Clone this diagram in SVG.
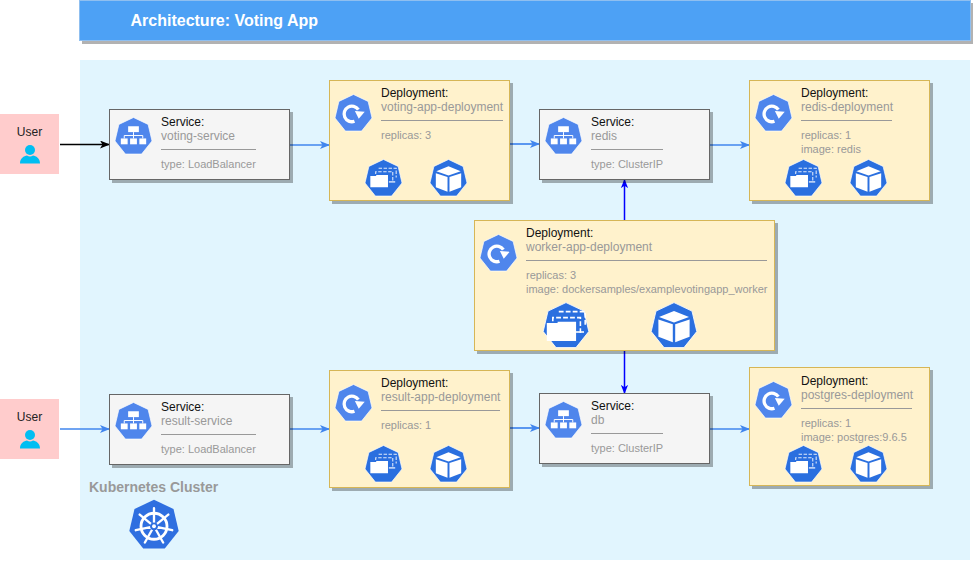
<svg xmlns="http://www.w3.org/2000/svg" width="973" height="561" viewBox="0 0 973 561">
<style>
text{font-family:"Liberation Sans",Arial,sans-serif;font-size:12px;fill:#999}
text.m{font-size:11px}
.h{fill:#111}
.svc rect.b{fill:#f5f5f5;stroke:#666;stroke-width:1;filter:url(#sh)}
.dep rect.b{fill:#fff2cc;stroke:#d6b656;stroke-width:1;filter:url(#sh)}
.sep{stroke:#999;stroke-width:1}
.user rect{fill:#ffcccc}
.user text{fill:#222;text-anchor:middle}
.c{fill:none;stroke-width:1.7}
.light{fill:#4f86ec;stroke:#fff;stroke-width:.7;stroke-linejoin:round}
.dark{fill:#2a6fdf;stroke:#fff;stroke-width:.7;stroke-linejoin:round}
</style>
<defs>
<filter id="sh" x="-5%" y="-5%" width="110%" height="115%"><feDropShadow dx="3" dy="3" stdDeviation="0.4" flood-color="#000" flood-opacity="0.3"/></filter>
<marker id="a" viewBox="0 0 10 8" refX="9" refY="4" markerWidth="11" markerHeight="8" markerUnits="userSpaceOnUse" orient="auto"><path d="M0 0L10 4L0 8L2.5 4Z" fill="#4186ee"/></marker>
<marker id="k" viewBox="0 0 10 8" refX="9" refY="4" markerWidth="11" markerHeight="8" markerUnits="userSpaceOnUse" orient="auto"><path d="M0 0L10 4L0 8L2.5 4Z" fill="#000"/></marker>
<marker id="b" viewBox="0 0 10 8" refX="9" refY="4" markerWidth="9" markerHeight="8" markerUnits="userSpaceOnUse" orient="auto"><path d="M0 0L10 4L0 8L2.5 4Z" fill="#00f"/></marker>
<polygon id="hp" points="0,-19.500 15,-12.400 19,4.600 8.300,18 -8.300,18 -19,4.600 -15,-12.400"/>
<symbol id="svcI" viewBox="-20 -20 40 40">
<use href="#hp" class="light"/>
<g fill="#fff"><rect x="-5.500" y="-10.500" width="11" height="6"/><rect x="-13" y="2" width="7" height="6"/><rect x="-3.500" y="2" width="7" height="6"/><rect x="6" y="2" width="7" height="6"/></g>
<path d="M0-4.500V2M-9.500 2V-1H9.500V2" fill="none" stroke="#fff" stroke-width="1"/>
</symbol>
<symbol id="depI" viewBox="-20 -20 40 40">
<use href="#hp" class="light"/>
<path d="M1 8A8 8 0 1 1 5-4" fill="none" stroke="#fff" stroke-width="3.400"/>
<path d="M1.400-2.500L11.500-1.800L5.400 5.400Z" fill="#fff"/>
</symbol>
<symbol id="rsI" viewBox="-20 -20 40 40">
<use href="#hp" class="dark"/>
<path d="M-5-10.500H13V-1" fill="none" stroke="#fff" stroke-width="1.100" stroke-dasharray="3.500 1.600" opacity=".85"/>
<path d="M-8-4.500V-7H9.500V3" fill="none" stroke="#fff" stroke-width="1.100" stroke-dasharray="3.500 1.600" opacity=".85"/>
<path d="M5.500 3.500H12" stroke="#fff" stroke-width="1.200"/>
<path d="M-13.500-2.500H-7.500V-3.500H4.600V9H-13.500Z" fill="#fff"/>
</symbol>
<symbol id="rsL" viewBox="-20 -20 40 40">
<use href="#hp" class="dark"/>
<path d="M-6-12H16V-1" fill="none" stroke="#fff" stroke-width="1.300" stroke-dasharray="4 1.800"/>
<path d="M-11-4V-7H12V7" fill="none" stroke="#fff" stroke-width="1.300" stroke-dasharray="4 1.800"/>
<path d="M8 5H15" stroke="#fff" stroke-width="1.300"/>
<path d="M-16-2.600H-7V-3.500H8.400V12.500H-16Z" fill="#fff"/>
</symbol>
<symbol id="podI" viewBox="-20 -20 40 40">
<use href="#hp" class="dark"/>
<g fill="#fff"><path d="M0-12.500L12.500-7.500L0-3L-12.500-7.500Z"/><path d="M-13-5.500L-1-1.500V13.500L-13 9Z"/><path d="M13-5.500L1-1.500V13.500L13 9Z"/></g>
</symbol>
<symbol id="k8sI" viewBox="-20 -20 40 40">
<use href="#hp" fill="#2f6fe0"/>
<circle cx="0" cy="1" r="10" fill="none" stroke="#fff" stroke-width="2.200"/>
<g stroke="#fff" stroke-width="1.800" stroke-linecap="round">
<path d="M0 1V-13M0 1L11 -8M0 1L14 4M0 1L7 13.500M0 1L-7 13.500M0 1L-14 4M0 1L-11 -8"/></g>
<circle cx="0" cy="1" r="3" fill="#2f6fe0"/><circle cx="0" cy="1" r="1.500" fill="#fff"/>
</symbol>
<symbol id="userI" viewBox="0 0 20 20">
<circle cx="10" cy="6" r="5" fill="#00bef2"/><path d="M0 19.500C0 14 4 12 7 11.500Q10 13.500 13 11.500C16 12 20 14 20 19.500Z" fill="#00bef2"/>
</symbol>
</defs>

<rect width="973" height="561" fill="#fff"/>
<g id="title">
<rect x="79.500" y="0.500" width="891" height="40" fill="#4da1f5" stroke="#8fbff0" stroke-width="1" filter="url(#sh)"/>
<text x="130.500" y="26" style="font-size:16px;font-weight:bold;fill:#fff">Architecture: Voting App</text>
</g>
<g id="cluster">
<rect x="80" y="60" width="890" height="500" fill="#e1f5fe"/>
<text x="89" y="492" style="font-size:14px;font-weight:bold;fill:#999">Kubernetes Cluster</text>
<use href="#k8sI" x="128" y="499" width="52" height="52"/>
</g>

<g id="connectors">
<path class="c" d="M60 144.500H109" stroke="#000" marker-end="url(#k)"/>
<path class="c" d="M290 145H329" stroke="#4186ee" marker-end="url(#a)"/>
<path class="c" d="M510 144H539" stroke="#4186ee" marker-end="url(#a)"/>
<path class="c" d="M710 145H749" stroke="#4186ee" marker-end="url(#a)"/>
<path class="c" d="M60 429H109" stroke="#4186ee" marker-end="url(#a)"/>
<path class="c" d="M290 429H329" stroke="#4186ee" marker-end="url(#a)"/>
<path class="c" d="M510 428H539" stroke="#4186ee" marker-end="url(#a)"/>
<path class="c" d="M710 429H749" stroke="#4186ee" marker-end="url(#a)"/>
<path class="c" style="stroke-width:1.500" d="M624.500 220V180" stroke="#00f" marker-end="url(#b)"/>
<path class="c" style="stroke-width:1.500" d="M624.500 351V393" stroke="#00f" marker-end="url(#b)"/>
</g>

<g id="user1" class="user">
<rect x="0" y="114" width="59" height="60"/><text x="29.500" y="136">User</text>
<use href="#userI" x="20" y="144" width="20" height="20"/>
</g>
<g id="user2" class="user">
<rect x="0" y="399" width="59" height="60"/><text x="29.500" y="421">User</text>
<use href="#userI" x="20" y="429" width="20" height="20"/>
</g>

<g id="voting-service" class="svc">
<rect class="b" x="109.500" y="109.500" width="180" height="70"/>
<use href="#svcI" x="114" y="117" width="39" height="39"/>
<text class="h" x="161" y="126">Service:</text><text x="161" y="140">voting-service</text>
<path class="sep" d="M161 149.500H256"/><text class="m" x="161" y="168">type: LoadBalancer</text>
</g>
<g id="voting-app-deployment" class="dep">
<rect class="b" x="329.500" y="80.500" width="180" height="120"/>
<use href="#depI" x="334" y="94" width="39" height="39"/>
<text class="h" x="381" y="97">Deployment:</text><text x="381" y="111">voting-app-deployment</text>
<path class="sep" d="M381 120.500H503"/><text class="m" x="381" y="139">replicas: 3</text>
<use href="#rsI" x="364" y="159" width="39" height="39"/><use href="#podI" x="429" y="159" width="39" height="39"/>
</g>
<g id="redis-service" class="svc">
<rect class="b" x="539.500" y="109.500" width="170" height="70"/>
<use href="#svcI" x="544" y="117" width="39" height="39"/>
<text class="h" x="591" y="126">Service:</text><text x="591" y="140">redis</text>
<path class="sep" d="M591 149.500H663"/><text class="m" x="591" y="168">type: ClusterIP</text>
</g>
<g id="redis-deployment" class="dep">
<rect class="b" x="749.500" y="80.500" width="180" height="120"/>
<use href="#depI" x="754" y="94" width="39" height="39"/>
<text class="h" x="801" y="97">Deployment:</text><text x="801" y="111">redis-deployment</text>
<path class="sep" d="M801 120.500H892"/><text class="m" x="801" y="139">replicas: 1</text><text class="m" x="801" y="153">image: redis</text>
<use href="#rsI" x="784" y="159" width="39" height="39"/><use href="#podI" x="849" y="159" width="39" height="39"/>
</g>
<g id="worker-app-deployment" class="dep">
<rect class="b" x="474.500" y="220.500" width="300" height="130"/>
<use href="#depI" x="479" y="234" width="39" height="39"/>
<text class="h" x="526" y="237">Deployment:</text><text x="526" y="251">worker-app-deployment</text>
<path class="sep" d="M526 260.500H767"/><text class="m" x="526" y="279">replicas: 3</text><text class="m" x="526" y="293">image: dockersamples/examplevotingapp_worker</text>
<use href="#rsL" x="542" y="302" width="48" height="48"/><use href="#podI" x="650" y="302" width="48" height="48"/>
</g>
<g id="result-service" class="svc">
<rect class="b" x="109.500" y="394.500" width="180" height="70"/>
<use href="#svcI" x="114" y="402" width="39" height="39"/>
<text class="h" x="161" y="411">Service:</text><text x="161" y="425">result-service</text>
<path class="sep" d="M161 434.500H256"/><text class="m" x="161" y="453">type: LoadBalancer</text>
</g>
<g id="result-app-deployment" class="dep">
<rect class="b" x="329.500" y="370.500" width="180" height="117"/>
<use href="#depI" x="334" y="384" width="39" height="39"/>
<text class="h" x="381" y="387">Deployment:</text><text x="381" y="401">result-app-deployment</text>
<path class="sep" d="M381 410.500H500"/><text class="m" x="381" y="429">replicas: 1</text>
<use href="#rsI" x="364" y="445" width="39" height="39"/><use href="#podI" x="429" y="445" width="39" height="39"/>
</g>
<g id="db-service" class="svc">
<rect class="b" x="539.500" y="393.500" width="170" height="70"/>
<use href="#svcI" x="544" y="401" width="39" height="39"/>
<text class="h" x="591" y="410">Service:</text><text x="591" y="424">db</text>
<path class="sep" d="M591 433.500H663"/><text class="m" x="591" y="452">type: ClusterIP</text>
</g>
<g id="postgres-deployment" class="dep">
<rect class="b" x="749.500" y="367.500" width="180" height="118"/>
<use href="#depI" x="754" y="381" width="39" height="39"/>
<text class="h" x="801" y="385">Deployment:</text><text x="801" y="399">postgres-deployment</text>
<path class="sep" d="M801 408.500H912"/><text class="m" x="801" y="427">replicas: 1</text><text class="m" x="801" y="441">image: postgres:9.6.5</text>
<use href="#rsI" x="784" y="445" width="39" height="39"/><use href="#podI" x="849" y="445" width="39" height="39"/>
</g>
</svg>
